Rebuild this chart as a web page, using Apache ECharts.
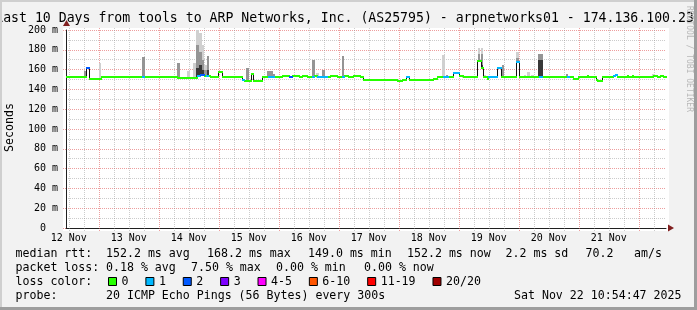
<!DOCTYPE html>
<html><head><meta charset="utf-8">
<script src="https://cdn.jsdelivr.net/npm/echarts@6/dist/echarts.min.js"></script>
<style>html,body{margin:0;padding:0;background:#f2f2f2;}#c{width:697px;height:310px;}</style>
</head><body><div id="c"></div>
<script>
// ---------- data (hours since 12 Nov 00:00) ----------
const dayLabels = ['12 Nov','13 Nov','14 Nov','15 Nov','16 Nov','17 Nov','18 Nov','19 Nov','20 Nov','21 Nov'];
const dayNoonHours = [12,36,60,84,108,132,156,180,204,228];
const yTickValues = [0,20,40,60,80,100,120,140,160,180,200];

// median rtt (ms), step runs: start hour, value, loss level index
const medStart = [10.9,18.9,20.1,24.9,41.3,42.1,55.3,60.1,63.3,64.5,66.1,66.9,67.7,68.5,71.7,73.3,81.3,82.1,84.9,85.7,
  89.3,91.7,94.1,97.3,100.1,101.3,104.1,105.3,107.3,109.3,110.1,111.3,115.3,116.5,119.3,121.3,122.1,123.7,125.7,128.5,
  129.7,143.3,145.3,146.9,148.1,157.7,159.3,161.7,163.7,165.7,168.1,169.7,175.3,176.9,177.7,179.3,179.7,183.3,184.9,190.9,
  192.1,200.1,201.3,211.3,212.1,213.7,215.7,219.3,219.7,222.9,223.3,225.3,229.7,230.5,231.3,235.3,235.7,237.3,237.7,245.7,
  247.3,248.5,249.7];
const medValue = [152.8,162.0,150.7,152.7,152.7,152.7,151.8,151.2,153.8,154.2,154.0,154.0,153.5,152.2,157.3,152.2,149.8,148.5,156.0,148.5,
  152.2,152.2,152.2,153.5,152.2,153.5,152.2,153.5,152.2,152.2,153.5,152.2,152.2,153.5,152.2,152.2,153.5,152.2,153.5,152.2,
  150.0,148.5,150.0,152.2,150.0,151.0,152.2,152.2,152.2,157.0,153.2,152.2,168.5,161.5,152.2,150.5,152.2,161.5,152.2,167.5,
  152.2,152.2,152.2,152.2,152.2,150.5,152.2,153.5,152.2,150.0,148.5,152.2,153.9,154.5,152.2,153.5,152.2,153.5,152.2,153.5,
  152.2,153.5,152.2];
const medLoss = [0,2,0,0,1,0,0,0,1,2,0,1,0,0,0,0,1,0,0,0,
  0,1,0,0,2,0,0,0,0,1,0,1,0,0,0,1,0,0,0,0,
  0,0,0,1,0,0,0,1,0,1,0,0,0,0,0,0,1,1,0,1,
  0,1,0,1,0,0,0,0,0,0,0,0,1,1,0,0,0,0,0,0,
  0,0,0];

// smoke (ping spread, ms): hour, top of light / medium / dark band (0 = none)
const smokeHour  = [18.5,19.5,24.6,42.0,45.3,55.9,60.0,62.3,63.5,64.7,65.7,66.7,67.7,83.5,91.9,93.1,93.9,110.0,111.5,114.0,
  121.7,162.0,163.3,170.0,176.1,177.3,178.5,185.7,191.5,194.5,196.0,197.5,200.1,201.1,206.7,211.3,246.0,249.1];
const smokeLight = [0,0,167,0,154,0,159,167,202,197,185,165,0,0,0,0,0,0,157,0,
  0,174.5,0,154,182,182,155,0,178,155,158,155,0,0,154,0,156,154];
const smokeMid   = [158.6,0,0,173,0,167,0,0,185,178,170,160,174,161.6,159,159,155.6,169.7,0,160,
  173.7,0,154.5,0,176,176,0,165,172,0,0,0,175.5,175.5,0,156,0,0];
const smokeDark  = [0,162,0,0,0,0,0,0,162,165,160,0,160,0,0,0,0,0,0,0,
  0,0,0,0,170,165,0,0,168,0,0,0,170,170,0,0,0,0];

const lossNames  = ['0','1','2','3','4-5','6-10','11-19','20/20'];
const lossColors = ['#26ff00','#00b8ff','#0059ff','#7e00ff','#ff00ff','#ff5500','#ff0000','#a00000'];

const titleText = 'Last 10 Days from tools to ARP Networks, Inc. (AS25795) - arpnetworks01 - 174.136.100.234';
const rttStats  = ['152.2 ms avg','168.2 ms max','149.0 ms min','152.2 ms now','2.2 ms sd','70.2','am/s'];
const lossStats = ['0.18 % avg','7.50 % max','0.00 % min','0.00 % now'];
const probeText = '20 ICMP Echo Pings (56 Bytes) every 300s';
const stampText = 'Sat Nov 22 10:54:47 2025';

// ---------- build ----------
const T1 = 250 + 54/60 + 47/3600;   // 22 Nov 10:54:47
const T0 = T1 - 240;
const majorHours = [], minorHours = [];
for (let h = 12; h <= 246; h += 6) { (h % 24 === 0 ? majorHours : minorHours).push(h); }

const segs = medStart.map((t, i) => ({
  t0: t, t1: i + 1 < medStart.length ? medStart[i + 1] : T1,
  v: medValue[i], loss: medLoss[i], prev: i > 0 ? medValue[i - 1] : medValue[i]
}));
function medianAt(t) { let v = medValue[0]; for (let i = 0; i < medStart.length; i++) if (medStart[i] <= t) v = medValue[i]; return v; }

const smokeItems = [];
smokeHour.forEach((t, i) => {
  const base = medianAt(t) - 1;
  [smokeLight[i], smokeMid[i], smokeDark[i]].forEach((top, lvl) => { if (top > 0) smokeItems.push([t, base, Math.min(top, 200), lvl]); });
});
const smokeColors = ['#d0d0d0', '#959595', '#383838'];

const FONT = 'DejaVu Sans Mono';
const MAJ = 'rgba(222,79,79,0.55)', MIN = 'rgba(143,143,143,0.45)';

const series = [];
series.push({
  type: 'custom', name: 'vgrid', coordinateSystem: 'cartesian2d', z: 1, clip: false, silent: true,
  data: majorHours.map(h => [h, 1]).concat(minorHours.map(h => [h, 0])),
  renderItem: (p, api) => {
    const a = api.coord([api.value(0), 0]);
    const x = Math.round(a[0]) + 0.5;
    return { type: 'line', shape: { x1: x, y1: 28, x2: x, y2: 231 },
      style: { stroke: api.value(1) ? MAJ : MIN, lineWidth: 1, lineDash: [1, 1] } };
  }
});
series.push({
  type: 'custom', name: 'days', coordinateSystem: 'cartesian2d', z: 1, clip: false, silent: true,
  data: dayNoonHours.map((h, i) => [h, i]),
  renderItem: (p, api) => {
    const a = api.coord([api.value(0), 0]);
    return { type: 'text', x: a[0], y: a[1] + 10,
      style: { text: dayLabels[api.value(1)], fontFamily: FONT, fontSize: 10, fill: '#000', align: 'center', verticalAlign: 'middle' } };
  }
});
series.push({
  type: 'custom', name: 'smoke', coordinateSystem: 'cartesian2d', z: 3, clip: true, silent: true,
  data: smokeItems,
  renderItem: (p, api) => {
    const t = api.value(0);
    const a = api.coord([t - 0.5, api.value(2)]);
    const b = api.coord([t + 0.5, api.value(1)]);
    const x0 = Math.round(a[0]), x1 = Math.round(b[0]);
    return { type: 'rect', shape: { x: x0, y: Math.round(a[1]), width: Math.max(1, x1 - x0), height: Math.round(b[1]) - Math.round(a[1]) },
      style: { fill: smokeColors[api.value(3)] } };
  }
});
series.push({
  type: 'custom', name: 'steps', coordinateSystem: 'cartesian2d', z: 4, silent: true,
  data: segs.slice(1).filter(s => s.prev !== s.v).map(s => [s.t0, s.prev, s.v]),
  renderItem: (p, api) => {
    const a = api.coord([api.value(0), api.value(1)]);
    const b = api.coord([api.value(0), api.value(2)]);
    const x = Math.round(a[0]) + 0.5;
    return { type: 'line', shape: { x1: x, y1: Math.round(a[1]), x2: x, y2: Math.round(b[1]) }, style: { stroke: '#111', lineWidth: 1 } };
  }
});
lossNames.forEach((name, li) => {
  series.push({
    type: 'custom', name: name, coordinateSystem: 'cartesian2d', z: 5, silent: true,
    itemStyle: { color: lossColors[li] },
    data: segs.filter(s => s.loss === li).map(s => [s.t0, s.t1, s.v]),
    renderItem: (p, api) => {
      const a = api.coord([api.value(0), api.value(2)]);
      const b = api.coord([api.value(1), api.value(2)]);
      const y = Math.round(a[1]);
      return { type: 'line', shape: { x1: Math.round(a[0]), y1: y, x2: Math.round(b[0]) + 1, y2: y }, style: { stroke: lossColors[li], lineWidth: 2 } };
    }
  });
});

function txt(text, x, y, extra) {
  return Object.assign({ type: 'text', x: x, y: y, silent: true,
    style: { text: text, fontFamily: FONT, fontSize: 11.6, fill: '#000', align: 'left', verticalAlign: 'middle' } }, extra || {});
}
const R1 = 254, R2 = 268, R4 = 296;
const rttX = [106, 207, 308, 407, 505.5, 585.5, 634];
const lossX = [106, 191, 276, 364];
const graphic = [
  { type: 'rect', z: -5, silent: true, shape: { x: 63, y: 28, width: 606, height: 203 }, style: { fill: '#ffffff' } },
  { type: 'rect', z: 20, silent: true, shape: { x: 0, y: 0, width: 697, height: 2 }, style: { fill: '#cfcfcf' } },
  { type: 'rect', z: 20, silent: true, shape: { x: 0, y: 0, width: 2, height: 310 }, style: { fill: '#cfcfcf' } },
  { type: 'rect', z: 20, silent: true, shape: { x: 0, y: 307, width: 697, height: 3 }, style: { fill: '#9e9e9e' } },
  { type: 'rect', z: 20, silent: true, shape: { x: 694, y: 0, width: 3, height: 310 }, style: { fill: '#9e9e9e' } },
  { type: 'polygon', z: 10, silent: true, shape: { points: [[668, 224.5], [668, 231.5], [674, 228]] }, style: { fill: '#801f1f' } },
  { type: 'polygon', z: 10, silent: true, shape: { points: [[63, 26], [70, 26], [66.5, 20]] }, style: { fill: '#801f1f' } },
  { type: 'text', x: 348.5, y: 18.5, silent: true, style: { text: titleText, fontFamily: FONT, fontSize: 13.2, fill: '#000', align: 'center', verticalAlign: 'middle' } },
  { type: 'text', x: 10, y: 127.5, rotation: Math.PI / 2, silent: true, style: { text: 'Seconds', fontFamily: FONT, fontSize: 11.6, fill: '#000', align: 'center', verticalAlign: 'middle' } },
  { type: 'text', x: 689, y: 59, rotation: -Math.PI / 2, silent: true, style: { text: 'RRDTOOL / TOBI OETIKER', fontFamily: FONT, fontSize: 8, fill: '#b8b8b8', align: 'center', verticalAlign: 'middle' } },
  txt('median rtt:', 15.5, R1), txt('packet loss:', 15.5, R2), txt('loss color:', 15.5, 282), txt('probe:', 15.5, R4),
  txt(probeText, 106, R4),
  txt(stampText, 681.5, R4, { style: { text: stampText, fontFamily: FONT, fontSize: 11.6, fill: '#000', align: 'right', verticalAlign: 'middle' } })
];
rttStats.forEach((s, i) => graphic.push(txt(s, rttX[i], R1)));
lossStats.forEach((s, i) => graphic.push(txt(s, lossX[i], R2)));

const chart = echarts.init(document.getElementById('c'));
chart.setOption({
  backgroundColor: '#f2f2f2',
  animation: false,
  grid: { left: 66, top: 30, width: 600, height: 198, show: false },
  xAxis: { type: 'value', min: T0, max: T1, axisLine: { show: true, lineStyle: { color: '#1f1f1f', width: 1 } },
    axisTick: { show: false }, axisLabel: { show: false }, splitLine: { show: false } },
  yAxis: [
    { type: 'value', min: 0, max: 200, interval: 20, position: 'left',
      axisLine: { show: true, lineStyle: { color: '#1f1f1f', width: 1 } },
      axisTick: { show: true, length: 3, lineStyle: { color: MAJ, type: [1, 1] } },
      axisLabel: { margin: 8, fontFamily: FONT, fontSize: 10, color: '#000',
        formatter: v => yTickValues.indexOf(v) < 0 ? '' : (v === 0 ? '0  ' : v + ' m') },
      splitLine: { show: true, lineStyle: { color: MAJ, type: [1, 1] } } },
    { type: 'value', min: 0, max: 200, interval: 10, position: 'left',
      axisLine: { show: false }, axisTick: { show: false }, axisLabel: { show: false },
      splitLine: { show: true, lineStyle: { color: ['transparent', MIN], type: [1, 1] } } }
  ],
  legend: { data: lossNames, left: 103, top: 270.5, icon: 'rect', itemWidth: 8, itemHeight: 8, itemGap: 16.9,
    selectedMode: false, itemStyle: { borderColor: '#000', borderWidth: 1 },
    textStyle: { fontFamily: FONT, fontSize: 11.6, color: '#000' } },
  graphic: graphic,
  series: series
});
</script></body></html>
